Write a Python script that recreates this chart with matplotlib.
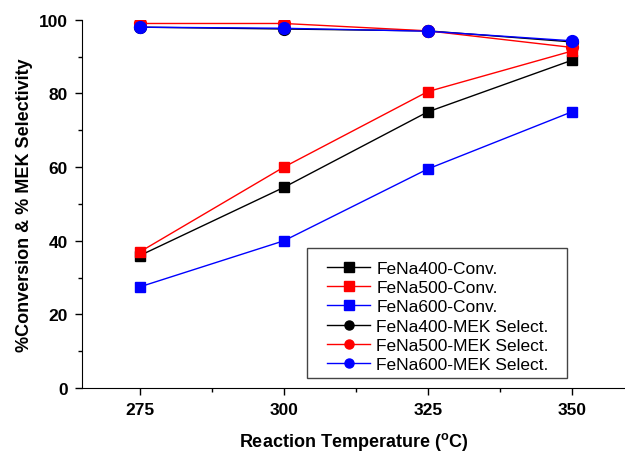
import matplotlib
matplotlib.use("Agg")
import matplotlib.pyplot as plt
from matplotlib.ticker import MultipleLocator
from matplotlib.patches import Rectangle

plt.rcParams['font.family'] = ['Liberation Sans', 'DejaVu Sans']

temps = [275, 300, 325, 350]
conv_400 = [36.0, 54.5, 75.0, 89.0]
conv_500 = [37.0, 60.0, 80.5, 91.5]
conv_600 = [27.5, 40.0, 59.5, 75.0]
sel_400 = [98.0, 97.5, 97.0, 94.0]
sel_500 = [99.0, 99.0, 97.0, 92.5]
sel_600 = [98.0, 97.7, 96.9, 94.3]

labels = ["FeNa400-Conv.", "FeNa500-Conv.", "FeNa600-Conv.",
          "FeNa400-MEK Select.", "FeNa500-MEK Select.", "FeNa600-MEK Select."]

fig = plt.figure(figsize=(6.25, 4.52), dpi=100)
ax = fig.add_axes([0.1307, 0.139, 0.8693, 0.815])

series = [(conv_400, 'black', 's'), (conv_500, 'red', 's'), (conv_600, 'blue', 's'),
          (sel_400, 'black', 'o'), (sel_500, 'red', 'o'), (sel_600, 'blue', 'o')]
for (vals, c, m), lab in zip(series, labels):
    ax.plot(temps, vals, color=c, marker=m, markersize=8.5 if m == 'o' else 7.5,
            linewidth=1.0, label=lab)

ax.set_xlim(264.9, 359.25)
ax.set_ylim(0, 100)
ax.set_xticks(temps)
ax.xaxis.set_minor_locator(MultipleLocator(12.5))
ax.yaxis.set_major_locator(MultipleLocator(20))
ax.yaxis.set_minor_locator(MultipleLocator(10))
for s in ['top', 'right']:
    ax.spines[s].set_visible(False)
ax.tick_params(axis='both', which='major', direction='out', length=5, width=1,
               labelsize=12.5, pad=5)
ax.tick_params(axis='both', which='minor', direction='out', length=3, width=1)
for lbl in ax.get_xticklabels() + ax.get_yticklabels():
    lbl.set_fontweight('bold')

ax.set_xlabel("Reaction Temperature ($^{\\mathregular{o}}$C)", fontsize=13,
              fontweight='bold', labelpad=9)
ax.set_ylabel("%Conversion & % MEK Selectivity", fontsize=13, fontweight='bold',
              labelpad=4.5)

leg = ax.legend(loc='upper left', bbox_to_anchor=(0.4515, 0.3464), fontsize=12.5,
                frameon=False, handlelength=2.5, handletextpad=0.35,
                borderpad=0, labelspacing=0.24, borderaxespad=0)
for h in leg.legend_handles:
    h.set_markersize(6.5)

ax.add_patch(Rectangle((0.4147, 0.0272), 0.8932 - 0.4147, 0.3804 - 0.0272,
                       transform=ax.transAxes, fill=False, edgecolor='#444444',
                       linewidth=1.0, zorder=5, clip_on=False))

fig.savefig("out.png", dpi=100)
